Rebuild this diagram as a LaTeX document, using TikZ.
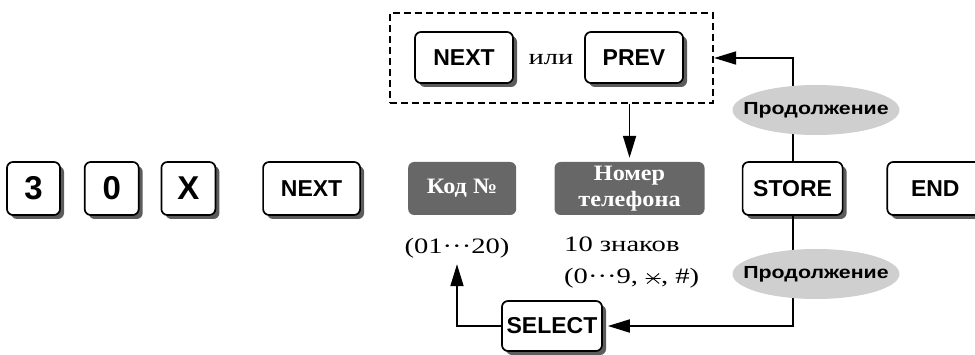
\documentclass[tikz,border=0pt]{standalone}
\usepackage{fontspec}
\setmainfont{Liberation Serif}
\setsansfont{Liberation Sans}
\newfontfamily\widefont{Liberation Serif}[FakeStretch=1.3]
\newfontfamily\fieldfont{Liberation Serif}[FakeStretch=1.1]
\newfontfamily\notefont{Liberation Sans}[FakeStretch=1.22]
\usetikzlibrary{arrows.meta,positioning,shapes.geometric,shadows}
\definecolor{KeyShadow}{HTML}{5C5C5C}
\definecolor{FieldGray}{HTML}{676767}
\definecolor{NoteGray}{HTML}{CFCFCF}
% six-armed star of the keypad
\newcommand{\sixstar}{\tikz[baseline=-5.5pt, line width=0.9pt] \draw (-7.5pt,0pt) -- (7.5pt,0pt) (-6pt,-5pt) -- (6pt,5pt) (-6pt,5pt) -- (6pt,-5pt);}

\begin{document}
\begin{tikzpicture}[x=1pt,y=-1pt,>=Triangle, node distance=20pt,
    key/.style={draw, line width=1.7pt, rounded corners=6pt, fill=white, minimum height=53pt, inner sep=0pt,
      font=\sffamily\bfseries\fontsize{23}{23}\selectfont,
      drop shadow={shadow xshift=4pt, shadow yshift=-4pt, fill=KeyShadow, opacity=1}},
    digit/.style={font=\sffamily\bfseries\fontsize{33}{33}\selectfont},
    field/.style={fill=FieldGray, rounded corners=6pt, minimum height=53pt, inner sep=0pt, text=white, align=center,
      font=\fieldfont\bfseries\fontsize{22}{26}\selectfont},
    note/.style={ellipse, fill=NoteGray, minimum width=167pt, minimum height=50pt, inner xsep=-18pt, inner ysep=4pt,
      font=\notefont\bfseries\fontsize{17.5}{17.5}\selectfont},
    plain/.style={inner sep=0pt, font=\widefont\fontsize{22}{32}\selectfont},
    flow/.style={line width=1.8pt, -{Triangle[length=22pt,width=13pt]}}]
  \useasboundingbox (0,0) rectangle (975,355);
  % key row
  \node[key, digit, minimum width=53pt] (k3) at (33.5,188.5) {3};
  \node[key, digit, minimum width=54pt, right=23pt of k3] (k0) {0};
  \node[key, digit, minimum width=54pt, right=21pt of k0] (kx) {X};
  \node[key, minimum width=97pt, right=46pt of kx] (next) {NEXT};
  \node[field, minimum width=108pt, right=47pt of next] (code) {Код №};
  \node[field, minimum width=150pt, right=38pt of code] (phone) {Номер\\телефона};
  \node[key, minimum width=100pt, right=37pt of phone] (store) {STORE};
  \node[key, minimum width=96pt, right=43pt of store] (endk) {END};
  % NEXT / PREV choice
  \node[draw, dash pattern=on 7pt off 4pt, line width=2.2pt, minimum width=323pt, minimum height=90pt] (grp) at (551.5,58) {};
  \node[key, minimum width=98pt, minimum height=51pt] (next2) at (464,57.5) {NEXT};
  \node[key, minimum width=98pt, minimum height=51pt] (prev) at (634,57.5) {PREV};
  \node[plain] (ili) at (551,60) {или};
  % ranges
  \node[plain] (range) at (457,248) {(01···20)};
  \node[plain, anchor=west, align=left] (digits) at (564,263) {10 знаков\\(0···9, \sixstar, \#)};
  \node[key, minimum width=100pt, minimum height=50pt] (select) at (552,326) {SELECT};
  % connectors
  \draw[flow, shorten >=4pt] (phone.north |- grp.south) -- (phone.north);
  \draw[flow] (store.north) -- (store.north |- grp.east) -- (grp.east);
  \draw[flow, shorten >=5pt] (store.south) -- (store.south |- select.east) -- (select.east);
  \draw[flow, shorten >=6pt] (select.west) -- (select.west -| range.south) -- (range.south);
  % notes on top of the loop lines
  \node[note] (more1) at (816,110) {Продолжение};
  \node[note] (more2) at (816,274) {Продолжение};
\end{tikzpicture}
\end{document}
